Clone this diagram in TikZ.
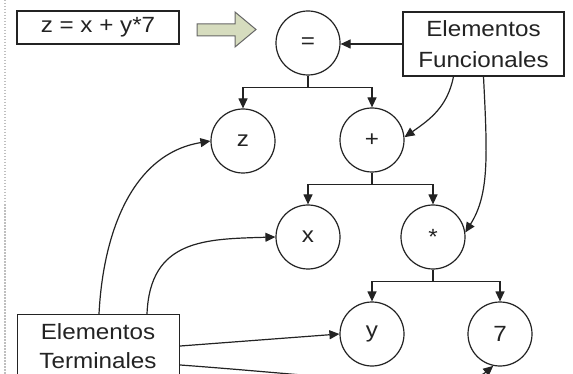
\documentclass[tikz,border=0pt]{standalone}
\usepackage{fontspec}
\setmainfont{Liberation Sans}[FakeStretch=1.1]
\usetikzlibrary{arrows.meta,calc}
\definecolor{arrowfill}{RGB}{214,220,190}
\definecolor{inkc}{RGB}{35,35,35}
\begin{document}
\begin{tikzpicture}[x=1pt,y=-1pt,
  every node/.style={font=\fontsize{22}{31}\selectfont, text=inkc},
  op/.style={circle, draw=inkc, line width=1.2pt, minimum size=64pt, inner sep=0pt, fill=white},
  box/.style={rectangle, draw=inkc, line width=1.2pt, inner sep=0pt, fill=white},
  conn/.style={draw=inkc, line width=1.2pt, -{Triangle[length=10pt,width=9pt]}},
  bigarrow/.style={draw=gray!80!black, fill=arrowfill, line width=1pt, line join=miter},
  edge/.style={draw=gray!50, line width=1.3pt, dash pattern=on 1.5pt off 1.5pt}
]
\path[use as bounding box, clip] (0,0) rectangle (573,374);
\fill[white] (0,0) rectangle (573,374);
\draw[edge] (5,0) -- (5,374);

% nodes
\node[box, minimum width=162pt, minimum height=33pt] (formula) at (98,27.5) {z = x + y*7};
\draw[bigarrow] (197,24) -- (235,24) -- (235,12) -- (256,29.5) -- (235,47) -- (235,36) -- (197,36) -- cycle;
\node[op] (eq) at (308,43) {=};
\node[box, minimum width=161pt, minimum height=64pt, align=center] (EF) at (483.5,44) {Elementos\\Funcionales};
\node[op] (z) at (243,141) {z};
\node[op] (plus) at (372,140) {+};
\node[op] (x) at (308,237) {x};
\node[op] (star) at (433,237) {*};
\node[op] (y) at (372,334) {y};
\node[op] (seven) at (500,334) {7};
\node[box, minimum width=162pt, minimum height=80pt, anchor=north west] (ET) at (17,314) {};
\node[align=center, font=\fontsize{22}{29}\selectfont] (ETtext) at (98,346.5) {Elementos\\Terminales};

% tree connectors
\draw[conn] (eq.south) -- ++(0,12) -| (z.north);
\draw[conn] (eq.south) -- ++(0,12) -| (plus.north);
\draw[conn] (plus.south) -- ++(0,12) -| (x.north);
\draw[conn] (plus.south) -- ++(0,12) -| (star.north);
\draw[conn] (star.south) -- ++(0,12) -| (y.north);
\draw[conn] (star.south) -- ++(0,12) -| (seven.north);

% functional elements
\draw[conn] (EF.west) -- (EF.west -| eq.east);
\draw[conn] ([xshift=-30pt]EF.south) .. controls +(-6,30) and +(26,-18) .. (plus.5);
\draw[conn] (EF.south) .. controls +(4,80) and +(24,-38) .. (star.8);

% terminal elements
\draw[conn] ([xshift=82pt]ET.north west) .. controls +(4,-80) and +(-79,13) .. (z.west);
\draw[conn] ([xshift=130pt]ET.north west) .. controls +(3,-75) and +(-70,2) .. (x.west);
\draw[conn] ([yshift=-32pt]ET.north east) -- (y.west);
\draw[conn] ([yshift=-51pt]ET.north east) .. controls +(151,11) and +(-33,28) .. (seven.-102);
\end{tikzpicture}
\end{document}
